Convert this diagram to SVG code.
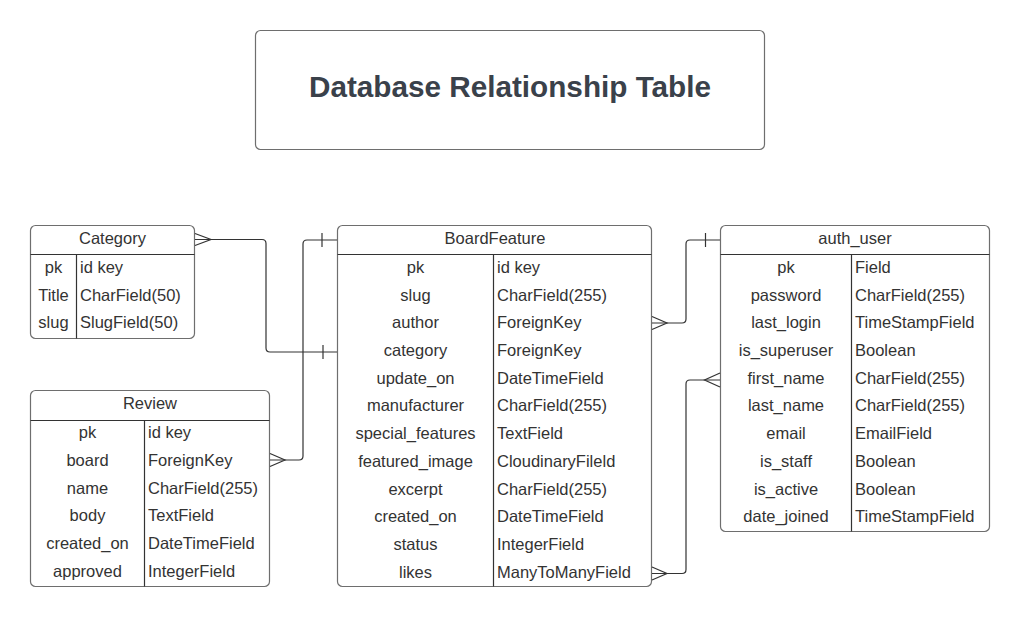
<svg xmlns="http://www.w3.org/2000/svg" width="1020" height="618" viewBox="0 0 1020 618">
<style>
.box{fill:#fff;stroke:#6e6e6e;stroke-width:1.2}
.div{stroke:#333;stroke-width:1.2;fill:none}
.t{font-family:"Liberation Sans",Arial,sans-serif;font-size:16.5px;fill:#333}
.c{text-anchor:middle}
.title{font-family:"Liberation Sans",Arial,sans-serif;font-size:29.7px;font-weight:bold;fill:#3a414a;text-anchor:middle}
.ln{stroke:#333;stroke-width:1.2;fill:none}
</style>
<rect width="1020" height="618" fill="#fff"/>
<g id="title">
<rect class="box" x="255.5" y="30.5" width="509" height="119" rx="5"/>
<text class="title" x="510" y="97">Database Relationship Table</text>
</g>
<g id="category">
<rect class="box" x="30.5" y="225.5" width="164" height="113" rx="5"/>
<line class="div" x1="30.5" y1="254.5" x2="194.5" y2="254.5"/>
<line class="div" x1="76.5" y1="254.5" x2="76.5" y2="338.5"/>
<text class="t c" x="112.5" y="244">Category</text>
<text class="t c" x="53.5" y="273">pk</text><text class="t" x="80" y="273">id key</text>
<text class="t c" x="53.5" y="300.5">Title</text><text class="t" x="80" y="300.5">CharField(50)</text>
<text class="t c" x="53.5" y="328">slug</text><text class="t" x="80" y="328">SlugField(50)</text>
</g>
<g id="review">
<rect class="box" x="30.5" y="390.5" width="239" height="196" rx="5"/>
<line class="div" x1="30.5" y1="420.5" x2="269.5" y2="420.5"/>
<line class="div" x1="144.5" y1="420.5" x2="144.5" y2="586.5"/>
<text class="t c" x="150" y="409">Review</text>
<text class="t c" x="87.5" y="437.5">pk</text><text class="t" x="148" y="437.5">id key</text>
<text class="t c" x="87.5" y="465.5">board</text><text class="t" x="148" y="465.5">ForeignKey</text>
<text class="t c" x="87.5" y="493.5">name</text><text class="t" x="148" y="493.5">CharField(255)</text>
<text class="t c" x="87.5" y="521">body</text><text class="t" x="148" y="521">TextField</text>
<text class="t c" x="87.5" y="549">created_on</text><text class="t" x="148" y="549">DateTimeField</text>
<text class="t c" x="87.5" y="576.5">approved</text><text class="t" x="148" y="576.5">IntegerField</text>
</g>
<g id="boardfeature">
<rect class="box" x="337.5" y="225.5" width="314" height="361" rx="5"/>
<line class="div" x1="337.5" y1="254.5" x2="651.5" y2="254.5"/>
<line class="div" x1="493.5" y1="254.5" x2="493.5" y2="586.5"/>
<text class="t c" x="495" y="244">BoardFeature</text>
<text class="t c" x="415.5" y="273">pk</text><text class="t" x="497" y="273">id key</text>
<text class="t c" x="415.5" y="300.5">slug</text><text class="t" x="497" y="300.5">CharField(255)</text>
<text class="t c" x="415.5" y="328.3">author</text><text class="t" x="497" y="328.3">ForeignKey</text>
<text class="t c" x="415.5" y="356">category</text><text class="t" x="497" y="356">ForeignKey</text>
<text class="t c" x="415.5" y="383.7">update_on</text><text class="t" x="497" y="383.7">DateTimeField</text>
<text class="t c" x="415.5" y="411.4">manufacturer</text><text class="t" x="497" y="411.4">CharField(255)</text>
<text class="t c" x="415.5" y="439.1">special_features</text><text class="t" x="497" y="439.1">TextField</text>
<text class="t c" x="415.5" y="466.8">featured_image</text><text class="t" x="497" y="466.8">CloudinaryFileld</text>
<text class="t c" x="415.5" y="494.5">excerpt</text><text class="t" x="497" y="494.5">CharField(255)</text>
<text class="t c" x="415.5" y="522.2">created_on</text><text class="t" x="497" y="522.2">DateTimeField</text>
<text class="t c" x="415.5" y="549.9">status</text><text class="t" x="497" y="549.9">IntegerField</text>
<text class="t c" x="415.5" y="577.6">likes</text><text class="t" x="497" y="577.6">ManyToManyField</text>
</g>
<g id="auth_user">
<rect class="box" x="720.5" y="225.5" width="269" height="306" rx="5"/>
<line class="div" x1="720.5" y1="254.5" x2="989.5" y2="254.5"/>
<line class="div" x1="851.5" y1="254.5" x2="851.5" y2="531.5"/>
<text class="t c" x="855" y="244">auth_user</text>
<text class="t c" x="786" y="273">pk</text><text class="t" x="855" y="273">Field</text>
<text class="t c" x="786" y="300.5">password</text><text class="t" x="855" y="300.5">CharField(255)</text>
<text class="t c" x="786" y="328.3">last_login</text><text class="t" x="855" y="328.3">TimeStampField</text>
<text class="t c" x="786" y="356">is_superuser</text><text class="t" x="855" y="356">Boolean</text>
<text class="t c" x="786" y="383.7">first_name</text><text class="t" x="855" y="383.7">CharField(255)</text>
<text class="t c" x="786" y="411.4">last_name</text><text class="t" x="855" y="411.4">CharField(255)</text>
<text class="t c" x="786" y="439.1">email</text><text class="t" x="855" y="439.1">EmailField</text>
<text class="t c" x="786" y="466.8">is_staff</text><text class="t" x="855" y="466.8">Boolean</text>
<text class="t c" x="786" y="494.5">is_active</text><text class="t" x="855" y="494.5">Boolean</text>
<text class="t c" x="786" y="522.2">date_joined</text><text class="t" x="855" y="522.2">TimeStampField</text>
</g>
<g id="connectors">
<path class="ln" d="M195,239.5 H262 Q266,239.5 266,243.5 V348 Q266,352 270,352 H337"/>
<path class="ln" d="M195,233.5 L211,239.5 L195,245.5"/>
<path class="ln" d="M323,345 V359"/>
<path class="ln" d="M270,460 H299 Q303,460 303,456 V244 Q303,240 307,240 H337"/>
<path class="ln" d="M270,453.5 L285,460 L270,466.5"/>
<path class="ln" d="M322,233 V247"/>
<path class="ln" d="M652,323 H682 Q686,323 686,319 V244 Q686,240 690,240 H720"/>
<path class="ln" d="M652,316.5 L667,323 L652,329.5"/>
<path class="ln" d="M705.5,233 V247"/>
<path class="ln" d="M652,573.5 H682 Q686,573.5 686,569.5 V384 Q686,380 690,380 H720"/>
<path class="ln" d="M652,567 L667,573.5 L652,580"/>
<path class="ln" d="M720,373 L704.5,380 L720,387"/>
</g>
</svg>
